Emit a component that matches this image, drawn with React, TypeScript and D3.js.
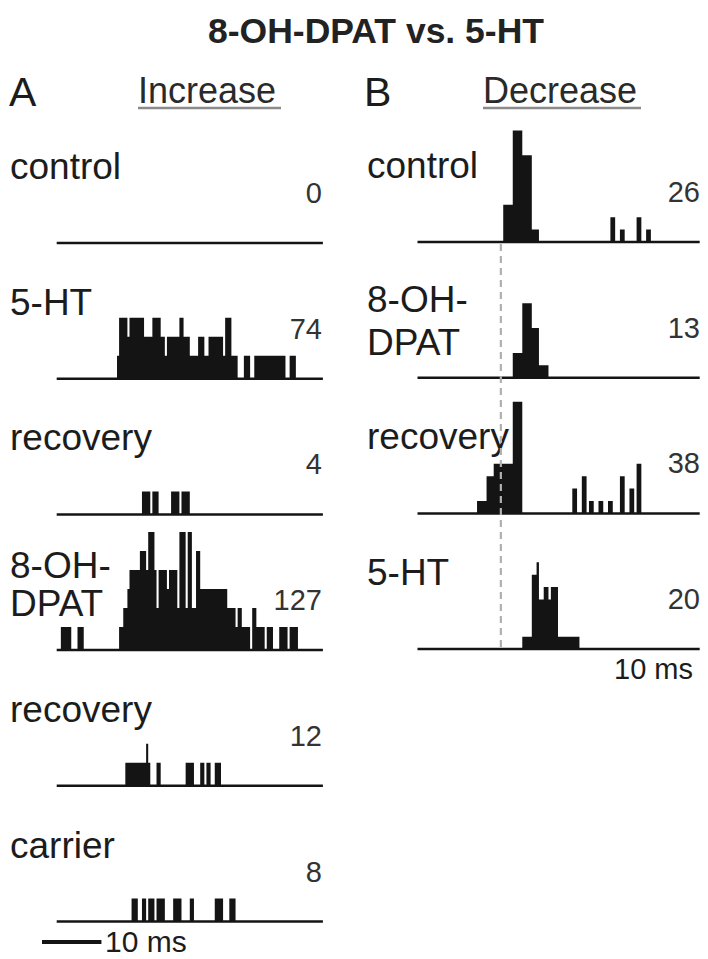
import React from "react";
import * as d3 from "d3";

const FONT = "'Liberation Sans', Arial, Helvetica, sans-serif";

// ---------- Panel A (Increase): spike counts per 0.35-ms bin, listed from a start bin ----------
const binMsA = 0.35;
const sweepMsA = 44.8;
const labelsA = [["control"], ["5-HT"], ["recovery"], ["8-OH-", "DPAT"], ["recovery"], ["carrier"]];
const countTextA = ["0", "74", "4", "127", "12", "8"];
const startBinA = [0, 29, 41, 2, 33, 36];
const histA_control: number[] = [];
const histA_5HT = [
  1, 3, 3, 3, 3, 2, 3, 3, 3, 3, 3, 3, 3, 2, 2, 2, 2, 3, 3, 3, 3, 2, 2, 1, 2, 2, 2, 2, 2, 2,
  3, 3, 2, 2, 2, 1, 1, 1, 1, 2, 2, 2, 1, 1, 2, 2, 2, 2, 2, 2, 2, 1, 3, 3, 3, 1, 1, 1, 0, 0,
  0, 1, 1, 1, 0, 0, 1, 1, 1, 1, 1, 1, 1, 1, 1, 1, 1, 1, 1, 1, 1, 0, 0, 1, 1, 1,
];
const histA_recovery1 = [1, 1, 1, 1, 0, 1, 1, 1, 0, 0, 0, 0, 0, 0, 1, 1, 1, 1, 0, 1, 1, 1, 1];
const histA_DPAT = [
  1, 1, 1, 1, 1, 0, 0, 0, 1, 1, 1, 0, 0, 0, 0, 0, 0, 0, 0, 0, 0, 0, 0, 0, 0, 0, 0, 0,
  1, 1, 2, 2, 3, 4, 4, 4, 4, 4, 5, 5, 5, 4, 6, 6, 6, 4, 2, 4, 4, 4, 4, 3, 4, 4, 4, 4, 2,
  6, 6, 6, 2, 6, 6, 2, 2, 5, 5, 3, 3, 3, 3, 3, 3, 3, 3, 3, 3, 3, 3, 3, 2, 2, 2, 2, 1, 2, 2,
  1, 1, 1, 1, 0, 2, 2, 1, 1, 1, 1, 0, 1, 1, 1, 0, 0, 0, 1, 1, 1, 1, 0, 1, 1, 1, 1,
];
const histA_recovery2 = [
  1, 1, 1, 1, 1, 1, 1, 1, 1, 1, 2, 1, 0, 0, 0, 1, 1, 0, 0, 0, 0, 0, 0, 0, 0, 0, 0, 0, 0,
  1, 1, 1, 1, 0, 0, 0, 1, 1, 0, 1, 1, 0, 0, 1, 1, 1,
];
const histA_carrier = [
  1, 1, 1, 0, 0, 1, 1, 0, 1, 1, 1, 0, 1, 1, 1, 1, 0, 0, 0, 0, 1, 1, 1, 1, 0, 0, 0, 0, 1, 1,
  0, 0, 0, 0, 0, 0, 0, 0, 0, 0, 1, 1, 1, 1, 0, 0, 0, 1, 1, 1,
];
const histsA = [histA_control, histA_5HT, histA_recovery1, histA_DPAT, histA_recovery2, histA_carrier];
const scaleBarMsA = 10;

// ---------- Panel B (Decrease): spike counts per 0.4-ms bin ----------
const binMsB = 0.4;
const sweepMsB = 47.4;
const labelsB = [["control"], ["8-OH-", "DPAT"], ["recovery"], ["5-HT"]];
const countTextB = ["26", "13", "38", "20"];
const startBinB = [36, 40, 25, 44];
const histB_control = [
  3, 3, 3, 3, 9, 9, 9, 9, 7, 7, 7, 7, 1, 1, 1, 0, 0, 0, 0, 0, 0, 0, 0, 0, 0, 0, 0, 0, 0, 0,
  0, 0, 0, 0, 0, 0, 0, 0, 0, 0, 0, 0, 0, 0, 0, 2, 2, 0, 0, 1, 1, 0, 0, 0, 0, 0, 2, 2, 0, 0, 1, 1,
];
const histB_DPAT = [2, 2, 2, 2, 6, 6, 6, 6, 4, 4, 4, 1, 1, 1, 1];
const histB_recovery = [
  1, 1, 1, 1, 3, 3, 3, 4, 4, 4, 4, 4, 4, 4, 4, 9, 9, 9, 9, 0, 0, 0, 0, 0, 0, 0, 0, 0, 0, 0,
  0, 0, 0, 0, 0, 0, 0, 0, 0, 0, 2, 2, 0, 0, 3, 3, 0, 1, 1, 0, 0, 1, 1, 0, 0, 1, 1, 0, 0, 0,
  3, 3, 0, 0, 2, 2, 0, 4, 4,
];
const histB_5HT = [1, 1, 1, 1, 6, 6, 7, 4, 4, 5, 5, 4, 5, 5, 5, 1, 1, 1, 1, 1, 1, 1, 1, 1];
const histsB = [histB_control, histB_DPAT, histB_recovery, histB_5HT];
const onsetMsB = 14;
const scaleTextB = "10 ms";

// ---------- layout ----------
const rowStep = 135.7;
const baseA0 = 243;
const baseB0 = 242;

const xA = d3.scaleLinear().domain([0, sweepMsA]).range([56.7, 322.9]);
const xB = d3.scaleLinear().domain([0, sweepMsB]).range([417.5, 699.7]);
const hA = d3.scaleLinear().domain([0, 6]).range([4, 118]);
const hB = d3.scaleLinear().domain([0, 9]).range([0, 111.6]);

type Pt = { t: number; c: number };

function histPath(
  counts: number[],
  start: number,
  binMs: number,
  x: d3.ScaleLinear<number, number>,
  h: d3.ScaleLinear<number, number>,
  base: number
) {
  if (!counts.length) return "";
  const pts: Pt[] = counts.map((c, i) => ({ t: (start + i) * binMs, c }));
  pts.push({ t: (start + counts.length) * binMs, c: 0 });
  const area = d3
    .area<Pt>()
    .curve(d3.curveStepAfter)
    .x((d) => x(d.t))
    .y0(base)
    .y1((d) => (d.c > 0 ? base - h(d.c) : base));
  return area(pts) || "";
}

const INK = "#141414";
const TXT = "#1c1c1c";

export default function App() {
  const labelSize = 37;
  const countSize = 29;
  return (
    <svg width={708} height={959} style={{ display: "block", position: "absolute", left: 0, top: 0 }} fontFamily={FONT}>
      <rect width={708} height={959} fill="#fff" />
      <text x={376} y={43} textAnchor="middle" fontSize={35.5} fontWeight="bold" fill="#222">
        8-OH-DPAT vs. 5-HT
      </text>

      <text x={9} y={106} fontSize={41} fill={TXT}>A</text>
      <text x={364} y={106} fontSize={41} fill={TXT}>B</text>
      <text x={138} y={103} fontSize={36} fill="#2a2a2a">Increase</text>
      <line x1={138} x2={281} y1={108} y2={108} stroke="#8a8a8a" strokeWidth={2.5} />
      <text x={483} y={103} fontSize={36} fill="#2a2a2a">Decrease</text>
      <line x1={483} x2={641} y1={108} y2={108} stroke="#8a8a8a" strokeWidth={2.5} />

      {histsA.map((counts, r) => {
        const base = baseA0 + r * rowStep;
        const lines = labelsA[r];
        const offs = lines.length === 2 ? [-72, -34] : [-64];
        return (
          <g key={"A" + r}>
            {lines.map((l, k) => (
              <text key={k} x={10} y={base + offs[k]} fontSize={labelSize} fill={TXT}>{l}</text>
            ))}
            <text x={322} y={base - 40} textAnchor="end" fontSize={countSize} fill="#333">{countTextA[r]}</text>
            <path d={histPath(counts, startBinA[r], binMsA, xA, hA, base)} fill={INK} />
            <line x1={xA(0)} x2={xA(sweepMsA)} y1={base} y2={base} stroke={INK} strokeWidth={2.5} />
          </g>
        );
      })}

      {/* 10 ms scale bar, panel A */}
      <line x1={42} x2={42 + xA(scaleBarMsA) - xA(0)} y1={942} y2={942} stroke={INK} strokeWidth={4} />
      <text x={105} y={952} fontSize={30} fill={TXT}>10 ms</text>

      {histsB.map((counts, r) => {
        const base = baseB0 + r * rowStep;
        const lines = labelsB[r];
        const offs = lines.length === 2 ? [-66, -23] : [-64];
        return (
          <g key={"B" + r}>
            {lines.map((l, k) => (
              <text key={k} x={367} y={base + offs[k]} fontSize={labelSize} fill={TXT}>{l}</text>
            ))}
            <text x={700} y={base - 40} textAnchor="end" fontSize={countSize} fill="#333">{countTextB[r]}</text>
            <path d={histPath(counts, startBinB[r], binMsB, xB, hB, base)} fill={INK} />
            <line x1={xB(0)} x2={xB(sweepMsB)} y1={base} y2={base} stroke={INK} strokeWidth={2.5} />
          </g>
        );
      })}

      <line
        x1={xB(onsetMsB)}
        x2={xB(onsetMsB)}
        y1={244}
        y2={648}
        stroke="#b0b0b0"
        strokeWidth={2.2}
        strokeDasharray="7 5"
      />
      <text x={693} y={679} textAnchor="end" fontSize={29} fill={TXT}>{scaleTextB}</text>
    </svg>
  );
}
